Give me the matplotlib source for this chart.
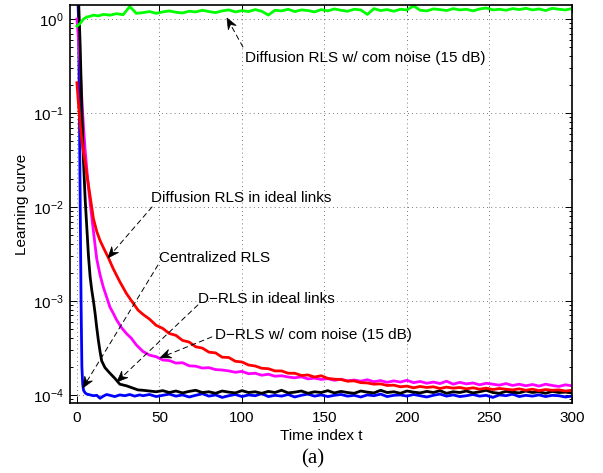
import numpy as np
import matplotlib
matplotlib.use('Agg')
import matplotlib.pyplot as plt
from matplotlib.patches import Polygon
from matplotlib.transforms import IdentityTransform

plt.rcParams['font.family'] = ['Liberation Sans', 'DejaVu Sans']
plt.rcParams['mathtext.fontset'] = 'custom'
plt.rcParams['mathtext.rm'] = 'Liberation Sans'
plt.rcParams['mathtext.it'] = 'Liberation Sans:italic'
plt.rcParams['font.size'] = 11

# common time grid for the flat tails (t = 40 ... 300)
t_tail = np.arange(40, 301, 4)

# Centralized RLS (blue)
blue_t0 = [0, 1, 1.5, 2, 2.5, 3, 3.5, 4, 5, 6, 8, 10, 12, 14, 16, 18, 20, 23, 26, 29, 32, 35, 38]
blue_v0 = [3.0, 1.0, 0.1, 0.01, 0.001, 2.0e-4, 1.3e-4, 1.12e-4, 1.05e-4, 1.02e-4, 1.0e-4, 0.98e-4,
           0.99e-4, 0.92e-4, 0.97e-4, 1.01e-4, 0.99e-4, 0.96e-4, 1.0e-4, 0.98e-4, 1.01e-4, 0.97e-4, 1.0e-4]
blue_tail = np.array([0.98, 1.01, 0.96, 0.99, 1.02, 0.97, 1.0, 0.95, 0.99, 1.03,
                      0.97, 1.0, 0.94, 0.98, 1.01, 0.96, 1.0, 0.98, 1.03, 0.96,
                      0.99, 0.97, 1.01, 0.95, 0.99, 1.02, 0.97, 1.0, 0.96, 0.99,
                      1.01, 0.97, 0.99, 0.95, 1.0, 0.98, 1.02, 0.96, 0.99, 1.0,
                      0.97, 1.01, 0.98, 0.95, 0.99, 1.02, 0.97, 1.0, 0.96, 0.98,
                      1.01, 0.97, 0.99, 0.94, 1.0, 0.98, 1.02, 0.96, 0.99, 0.97,
                      1.0, 0.96, 0.99, 0.98, 0.95, 0.97]) * 1e-4

# D-RLS in ideal links (black)
black_t0 = [0, 1, 2, 3, 4, 5, 6, 7, 8, 9, 10, 11, 12, 13, 14, 15, 17, 20, 23, 26, 30, 34, 37]
black_v0 = [3.0, 1.6, 0.5, 0.1, 0.03, 0.012, 0.006, 0.003, 0.0018, 0.0013, 0.001, 7.4e-4, 5.2e-4,
            3.8e-4, 2.9e-4, 2.3e-4, 1.95e-4, 1.7e-4, 1.5e-4, 1.3e-4, 1.25e-4, 1.18e-4, 1.13e-4]
black_tail = np.array([1.12, 1.1, 1.08, 1.11, 1.06, 1.1, 1.05, 1.09, 1.12, 1.06,
                       1.08, 1.04, 1.1, 1.07, 1.05, 1.11, 1.06, 1.08, 1.04, 1.09,
                       1.06, 1.12, 1.05, 1.07, 1.1, 1.04, 1.08, 1.06, 1.11, 1.05,
                       1.09, 1.06, 1.04, 1.1, 1.07, 1.05, 1.12, 1.06, 1.08, 1.04,
                       1.1, 1.07, 1.05, 1.09, 1.06, 1.11, 1.04, 1.08, 1.06, 1.1,
                       1.05, 1.08, 1.12, 1.06, 1.04, 1.09, 1.07, 1.05, 1.1, 1.06,
                       1.08, 1.04, 1.09, 1.06, 1.07, 1.05]) * 1e-4

# D-RLS w/ com noise (magenta)
mag_t0 = [0, 1, 2, 3, 4, 5, 6, 7, 8, 9, 10, 12, 14, 16, 18, 20, 22, 24, 27, 30, 33, 36]
mag_v0 = [1.0, 0.6, 0.3, 0.14, 0.07, 0.04, 0.025, 0.016, 0.011, 0.0078, 0.0055, 0.0028, 0.0019,
          0.0014, 0.0011, 8.6e-4, 7.4e-4, 6.3e-4, 5.2e-4, 4.5e-4, 4.0e-4, 3.4e-4]
mag_tail = np.array([2.9, 2.65, 2.55, 2.35, 2.32, 2.18, 2.2, 2.04, 2.02, 1.93,
                     1.95, 1.86, 1.84, 1.8, 1.74, 1.78, 1.68, 1.7, 1.62, 1.66,
                     1.58, 1.6, 1.55, 1.52, 1.56, 1.48, 1.51, 1.46, 1.49, 1.43,
                     1.47, 1.41, 1.44, 1.4, 1.45, 1.38, 1.42, 1.36, 1.41, 1.37,
                     1.43, 1.35, 1.39, 1.33, 1.37, 1.32, 1.4, 1.3, 1.36, 1.31,
                     1.34, 1.28, 1.33, 1.3, 1.27, 1.32, 1.26, 1.3, 1.25, 1.29,
                     1.24, 1.3, 1.26, 1.23, 1.28, 1.25]) * 1e-4

# Diffusion RLS in ideal links (red)
red_t0 = [0, 1, 2, 3, 4, 5, 6, 7, 8, 10, 12, 14, 16, 19, 22, 26, 30, 34, 37]
red_v0 = [0.21, 0.12, 0.075, 0.05, 0.038, 0.03, 0.022, 0.017, 0.013, 0.0075, 0.0055, 0.0044,
          0.0037, 0.0029, 0.0022, 0.0016, 0.0012, 9.5e-4, 8.0e-4]
red_tail = np.array([7.2, 6.4, 5.5, 5.1, 4.5, 4.3, 3.8, 3.65, 3.25, 3.15,
                     2.85, 2.8, 2.52, 2.5, 2.28, 2.24, 2.08, 2.03, 1.92, 1.9,
                     1.8, 1.8, 1.7, 1.7, 1.61, 1.63, 1.55, 1.6, 1.5, 1.47,
                     1.46, 1.4, 1.41, 1.35, 1.34, 1.3, 1.31, 1.26, 1.27, 1.22,
                     1.24, 1.19, 1.23, 1.2, 1.22, 1.17, 1.21, 1.18, 1.2, 1.16,
                     1.19, 1.15, 1.18, 1.14, 1.17, 1.15, 1.13, 1.16, 1.12, 1.15,
                     1.11, 1.14, 1.12, 1.13, 1.1, 1.12]) * 1e-4

# Diffusion RLS w/ com noise (green)
green_t0 = [0, 2, 4, 6, 8, 10, 13, 16, 20, 24, 28, 32, 36]
green_v0 = [0.84, 0.9, 1.0, 1.05, 1.07, 1.1, 1.08, 1.12, 1.1, 1.14, 1.11, 1.36, 1.15]
green_tail = np.array([1.17, 1.2, 1.15, 1.19, 1.22, 1.18, 1.16, 1.21, 1.19, 1.24,
                       1.2, 1.17, 1.22, 1.25, 1.19, 1.23, 1.2, 1.26, 1.21, 1.1,
                       1.24, 1.22, 1.27, 1.2, 1.25, 1.23, 1.19, 1.26, 1.22, 1.28,
                       1.24, 1.21, 1.27, 1.25, 1.12, 1.29, 1.23, 1.26, 1.21, 1.27,
                       1.25, 1.38, 1.24, 1.22, 1.28, 1.26, 1.23, 1.29, 1.25, 1.27,
                       1.22, 1.28, 1.31, 1.25, 1.27, 1.24, 1.29, 1.26, 1.3, 1.25,
                       1.28, 1.23, 1.3, 1.27, 1.25, 1.29])

series = [
    (blue_t0, blue_v0, blue_tail, '#0000ff'),
    (mag_t0, mag_v0, mag_tail, '#ff00ff'),
    (black_t0, black_v0, black_tail, 'k'),
    (red_t0, red_v0, red_tail, '#ff0000'),
    (green_t0, green_v0, green_tail, '#00ff00'),
]

fig = plt.figure(figsize=(6.03, 4.73), dpi=100)
ax = fig.add_axes([69.5 / 603, 70 / 473, 502.5 / 603, 398 / 473])

for t0, v0, tail, c in series:
    t = np.concatenate([t0, t_tail])
    v = np.concatenate([v0, tail])
    ax.plot(t, v, color=c, lw=2.0, solid_joinstyle='round')

ax.set_yscale('log')
ax.set_xlim(-4.5, 300)
ax.set_ylim(0.82e-4, 1.41)
ax.set_xticks(np.arange(0, 301, 50))
ax.set_yticks([1e-4, 1e-3, 1e-2, 1e-1, 1e0])
ax.tick_params(which='both', direction='in', top=True, right=True, width=0.7)
ax.tick_params(which='major', length=5)
ax.tick_params(axis='y', which='major', pad=4)
ax.tick_params(axis='x', which='major', pad=6)
ax.tick_params(which='minor', length=2.5)
ax.tick_params(axis='x', which='minor', bottom=False, top=False)
for s in ax.spines.values():
    s.set_linewidth(1.2)
ax.grid(True, which='major', linestyle=(0, (1, 4)), color='k', lw=0.6, alpha=0.7)

ax.set_xlabel('Time index t')
ax.xaxis.set_label_coords(0.5, -0.066)
ax.set_ylabel('Learning curve')
ax.yaxis.set_label_coords(-0.081, 0.5)
fig.text(313 / 603, 1 - 459 / 473, '(a)', family='Liberation Serif', fontsize=15,
         ha='center', va='center')


def arrow(head, tail):
    # dashed line plus a notched, filled head (MATLAB style)
    tr = ax.transData
    h = np.array(tr.transform(head))
    tl = np.array(tr.transform(tail))
    u = (h - tl) / np.hypot(*(h - tl))
    n = np.array([-u[1], u[0]])
    L, W = 11, 4.5
    back = h - L * u
    notch = h - (L - 3.5) * u
    notch_d = tr.inverted().transform(notch)
    ax.annotate('', xy=notch_d, xytext=tail,
                arrowprops=dict(arrowstyle='-', linestyle=(0, (5, 4)), lw=0.7,
                                color='k', shrinkA=0, shrinkB=0))
    poly = Polygon([h, back + W * n, notch, back - W * n], closed=True,
                   facecolor='k', edgecolor='k', lw=0.5, transform=IdentityTransform())
    fig.patches.append(poly)


notes = [
    ('Diffusion RLS w/ com noise (15 dB)', (101.8, 0.385), (90.9, 1.025), (100.6, 0.504)),
    ('Diffusion RLS in ideal links', (44.8, 1.247e-2), (18.8, 2.87e-3), (45.5, 1.0e-2)),
    ('Centralized RLS', (49.7, 2.87e-3), (3.6, 1.186e-4), (49.1, 2.41e-3)),
    ('D\u2212RLS in ideal links', (73.3, 1.05e-3), (24.2, 1.375e-4), (73.3, 9.06e-4)),
    ('D\u2212RLS w/ com noise (15 dB)', (83.6, 4.35e-4), (50.3, 2.48e-4), (81.8, 4.14e-4)),
]
for txt, pos, head, tail in notes:
    ax.text(pos[0], pos[1], txt, ha='left', va='center')
    arrow(head, tail)

fig.savefig('out.png', dpi=100)
